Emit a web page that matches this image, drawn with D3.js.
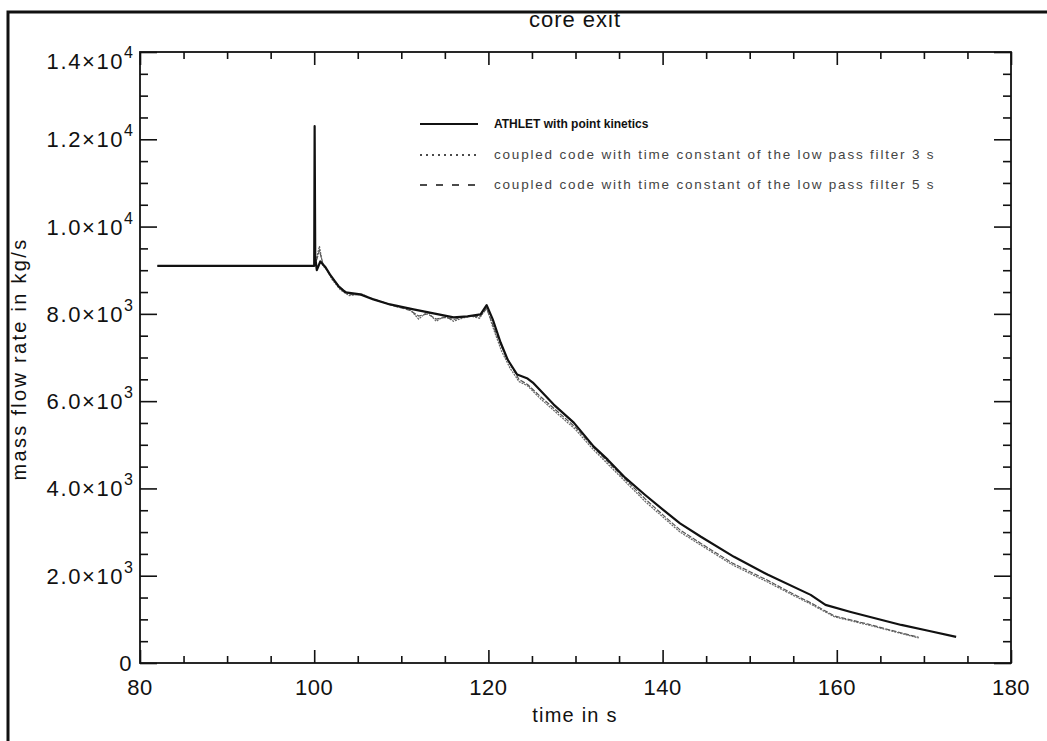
<!DOCTYPE html>
<html>
<head>
<meta charset="utf-8">
<script src="https://cdn.jsdelivr.net/npm/d3@7"></script>
<style>
  html, body { margin: 0; padding: 0; background: #fff; }
  svg { display: block; font-family: "Liberation Sans", Arial, sans-serif; }
</style>
</head>
<body>
<svg id="chart" width="1047" height="741"></svg>
<script>
// Core exit mass flow rate, time in s / kg/s
const athletTime = [82, 100, 100.05, 100.12, 100.3, 100.7, 101.3, 101.8, 102.8, 103.6, 105.3, 106.8, 108.7, 111.4, 113.7, 116.0, 117.6, 119.1, 119.8, 120.5, 121.4, 122.2, 123.3, 124.5, 125.1, 127.5, 129.8, 132.1, 133.7, 135.7, 138, 140, 142, 144.4, 148.2, 152.1, 157.0, 158.7, 161.6, 164.5, 167.4, 170.5, 173.7];
const athletFlow = [9100, 9100, 12300, 9300, 9000, 9200, 9066, 8905, 8630, 8492, 8446, 8331, 8216, 8102, 8010, 7918, 7941, 7987, 8200, 7872, 7344, 6954, 6610, 6518, 6426, 5921, 5508, 4957, 4659, 4246, 3850, 3520, 3200, 2892, 2433, 2020, 1561, 1331, 1170, 1020, 872, 740, 597];

const coupledTime = [82, 100, 100.3, 100.6, 101, 101.5, 102, 103, 104, 105.5, 107, 109, 111, 112, 113, 114, 115, 116, 117, 118, 119, 119.8, 120.5, 121.5, 122.5, 123.5, 124.5, 126, 128, 130, 132, 134, 136, 138, 140, 142, 144.4, 148, 152, 155, 157, 159.7, 163.6, 166.5, 169.4];
const coupled3Flow = [9100, 9100, 9300, 9550, 9100, 9000, 8800, 8550, 8420, 8450, 8320, 8200, 8100, 7880, 8050, 7830, 7950, 7830, 7900, 7950, 7900, 8150, 7700, 7150, 6750, 6450, 6350, 6050, 5700, 5350, 4900, 4500, 4100, 3700, 3350, 3000, 2700, 2250, 1860, 1550, 1350, 1060, 870, 720, 574];
const coupled5Flow = [9100, 9100, 9250, 9450, 9150, 9000, 8850, 8600, 8450, 8430, 8330, 8190, 8080, 7950, 8000, 7880, 7920, 7870, 7920, 7950, 7930, 8120, 7750, 7250, 6850, 6500, 6380, 6100, 5750, 5400, 4950, 4550, 4150, 3760, 3400, 3050, 2740, 2290, 1900, 1580, 1380, 1080, 890, 735, 590];

const xMajor = [80, 100, 120, 140, 160, 180];
const yMajor = [0, 2000, 4000, 6000, 8000, 10000, 12000, 14000];
const yLabels = [["0", ""], ["2.0×10", "3"], ["4.0×10", "3"], ["6.0×10", "3"], ["8.0×10", "3"], ["1.0×10", "4"], ["1.2×10", "4"], ["1.4×10", "4"]];
const legendLabels = ["ATHLET with point kinetics", "coupled code with time constant of the low pass filter 3 s", "coupled code with time constant of the low pass filter 5 s"];

const svg = d3.select("#chart");
const m = { left: 140, right: 1011, top: 52, bottom: 663 };
const x = d3.scaleLinear().domain([80, 180]).range([m.left, m.right]);
const y = d3.scaleLinear().domain([0, 14000]).range([m.bottom, m.top]);

// page frame
svg.append("path").attr("d", "M8,741 L8,12 L1047,12")
  .attr("fill", "none").attr("stroke", "#111").attr("stroke-width", 3);

// plot box
svg.append("rect").attr("x", m.left).attr("y", m.top)
  .attr("width", m.right - m.left).attr("height", m.bottom - m.top)
  .attr("fill", "none").attr("stroke", "#111").attr("stroke-width", 1.8);

const xMinor = d3.range(80, 180.1, 5).filter(v => !xMajor.includes(v));
const yMinor = d3.range(0, 14001, 500).filter(v => !yMajor.includes(v));

function tickAxes(axisFn, scale, offset, values, size) {
  const g = svg.append("g").attr("transform", offset)
    .call(axisFn(scale).tickValues(values).tickSize(size).tickFormat(""));
  g.select(".domain").remove();
  g.selectAll("line").attr("stroke", "#111").attr("stroke-width", 1.6);
  return g;
}
// inward ticks on all four sides
tickAxes(d3.axisBottom, x, `translate(0,${m.bottom})`, xMajor, -13);
tickAxes(d3.axisBottom, x, `translate(0,${m.bottom})`, xMinor, -7);
tickAxes(d3.axisTop, x, `translate(0,${m.top})`, xMajor, -13);
tickAxes(d3.axisTop, x, `translate(0,${m.top})`, xMinor, -7);
tickAxes(d3.axisLeft, y, `translate(${m.left},0)`, yMajor, -17);
tickAxes(d3.axisLeft, y, `translate(${m.left},0)`, yMinor, -8);
tickAxes(d3.axisRight, y, `translate(${m.right},0)`, yMajor, -17);
tickAxes(d3.axisRight, y, `translate(${m.right},0)`, yMinor, -8);

// x tick labels
svg.append("g").selectAll("text").data(xMajor).join("text")
  .attr("x", d => x(d)).attr("y", 695)
  .attr("text-anchor", "middle").attr("font-size", 22).attr("fill", "#111")
  .attr("letter-spacing", 0.5)
  .text(d => d);

// y tick labels with exponent superscripts
const yl = svg.append("g").selectAll("text").data(yMajor).join("text")
  .attr("x", 133)
  .attr("y", (d, i) => y(d) + 8 + (i === yMajor.length - 1 ? 9 : 0))
  .attr("text-anchor", "end").attr("font-size", 22).attr("fill", "#111");
yl.append("tspan").attr("letter-spacing", 1.6).text((d, i) => yLabels[i][0]);
yl.append("tspan").attr("dy", -11).attr("font-size", 16).text((d, i) => yLabels[i][1]);

// axis titles
svg.append("text").attr("x", 575).attr("y", 27).attr("text-anchor", "middle")
  .attr("font-size", 22).attr("fill", "#111").attr("letter-spacing", 1).text("core exit");
svg.append("text").attr("x", 575).attr("y", 722).attr("text-anchor", "middle")
  .attr("font-size", 20).attr("fill", "#111").attr("letter-spacing", 1.2).text("time in s");
svg.append("text").attr("transform", "translate(26,359) rotate(-90)")
  .attr("text-anchor", "middle").attr("font-size", 20).attr("fill", "#111")
  .attr("letter-spacing", 2.3).text("mass flow rate in kg/s");

// data lines
const line = d3.line().x(d => x(d[0])).y(d => y(d[1]));
const zip = (t, v) => t.map((tt, i) => [tt, v[i]]);

svg.append("path").datum(zip(coupledTime, coupled5Flow)).attr("d", line)
  .attr("fill", "none").attr("stroke", "#555").attr("stroke-width", 1.2)
  .attr("stroke-dasharray", "5,1.5");
svg.append("path").datum(zip(coupledTime, coupled3Flow)).attr("d", line)
  .attr("fill", "none").attr("stroke", "#666").attr("stroke-width", 1.2)
  .attr("stroke-dasharray", "2,1");
svg.append("path").datum(zip(athletTime, athletFlow)).attr("d", line)
  .attr("fill", "none").attr("stroke", "#111").attr("stroke-width", 2.2)
  .attr("stroke-linejoin", "round");

// legend
const legendY = [124, 155, 185];
const legendDash = [null, "2,4", "7,9"];
const legendWidth = [2, 1.6, 1.6];
const lg = svg.append("g");
legendLabels.forEach((lab, i) => {
  lg.append("line").attr("x1", 420).attr("x2", 478).attr("y1", legendY[i]).attr("y2", legendY[i])
    .attr("stroke", "#111").attr("stroke-width", legendWidth[i])
    .attr("stroke-dasharray", legendDash[i]);
  lg.append("text").attr("x", 494).attr("y", legendY[i] + 4)
    .attr("font-size", i === 0 ? 12 : 13.5)
    .attr("font-weight", i === 0 ? "bold" : "normal")
    .attr("letter-spacing", i === 0 ? 0 : 1.8)
    .attr("fill", i === 0 ? "#111" : "#444")
    .text(lab);
});
</script>
</body>
</html>
